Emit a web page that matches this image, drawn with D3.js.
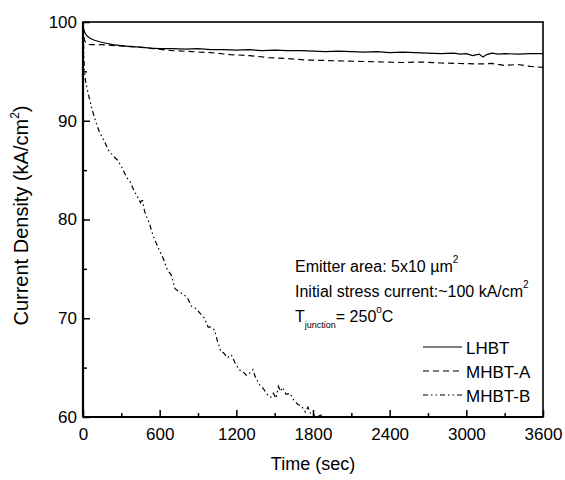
<!DOCTYPE html>
<html><head><meta charset="utf-8">
<script src="https://cdn.jsdelivr.net/npm/d3@7"></script>
<style>
html,body{margin:0;padding:0;background:#fff;}
text{font-family:"Liberation Sans",Arial,sans-serif;fill:#000;}
</style></head><body>
<svg id="chart" width="565" height="480"></svg>
<script>
const xTicks = [0, 600, 1200, 1800, 2400, 3000, 3600];
const yTicks = [60, 70, 80, 90, 100];

const lhbtTime = [0,5,15,30,55,90,130,180,235,300,370,450,530,600,700,800,900,1000,1100,1200,1300,1400,1500,1600,1700,1800,1900,2000,2100,2200,2300,2400,2500,2600,2700,2800,2900,2950,3000,3050,3100,3130,3160,3200,3250,3300,3400,3500,3600];
const lhbtValue = [99.8,99.3,98.9,98.6,98.35,98.15,98.0,97.85,97.7,97.6,97.5,97.45,97.35,97.3,97.3,97.25,97.3,97.2,97.2,97.15,97.2,97.1,97.15,97.1,97.1,97.05,97.0,97.05,97.0,96.95,97.0,96.9,96.95,96.9,96.85,96.8,96.85,96.75,96.8,96.6,96.75,96.45,96.7,96.85,96.75,96.8,96.75,96.8,96.8];

const mhbtATime = [0,10,25,60,150,250,400,550,700,850,1000,1150,1300,1450,1600,1750,1900,2050,2200,2350,2500,2650,2800,2950,3100,3200,3300,3400,3500,3600];
const mhbtAValue = [99.5,98.2,97.8,97.7,97.7,97.6,97.5,97.3,97.1,97.0,96.9,96.7,96.6,96.4,96.3,96.15,96.1,96.05,96.0,95.95,95.9,95.95,95.85,95.8,95.75,95.8,95.6,95.7,95.5,95.4];

const mhbtBTime = [0,5,10,20,40,70,100,130,160,200,240,270,300,340,370,400,430,450,465,475,490,520,550,590,630,660,690,720,750,790,820,850,880,910,950,980,1000,1030,1050,1080,1100,1130,1160,1190,1220,1250,1280,1310,1330,1350,1380,1410,1440,1470,1490,1510,1530,1545,1560,1590,1620,1650,1680,1710,1740,1760,1780,1800,1830,1860,1890,1900];
const mhbtBValue = [99.5,97.5,95.2,94.0,92.8,91.2,89.9,88.8,88.1,87.0,86.4,86.0,85.4,84.3,83.8,82.9,82.2,81.7,82.1,81.2,80.5,79.6,78.3,77.1,76.0,74.9,74.4,73.0,72.7,72.4,72.0,71.2,71.0,70.6,70.0,69.1,69.1,68.8,67.8,66.6,66.5,66.0,66.3,65.5,64.8,64.6,64.2,64.5,64.8,64.0,63.3,62.9,62.3,62.0,62.4,61.9,63.1,62.6,63.0,62.3,62.4,61.7,61.3,61.1,60.5,61.0,60.4,60.3,60.0,60.2,60.1,59.8];

const seriesNames = ["LHBT", "MHBT-A", "MHBT-B"];
const dashes = [null, "6,4", "5,3,1.5,3,1.5,3"];

const svg = d3.select("#chart");
const L = 83, R = 543, T = 22, B = 417;
const x = d3.scaleLinear().domain([0, 3600]).range([L, R]);
const y = d3.scaleLinear().domain([60, 100]).range([B, T]);

svg.append("defs").append("clipPath").attr("id", "clip")
  .append("rect").attr("x", L).attr("y", T).attr("width", R - L).attr("height", B - T);

const series = [
  {t: lhbtTime, v: lhbtValue},
  {t: mhbtATime, v: mhbtAValue},
  {t: mhbtBTime, v: mhbtBValue}
];
const line = d3.line().x(d => x(d[0])).y(d => y(d[1]));
series.forEach((s, i) => {
  const pts = s.t.map((t, j) => [t, s.v[j]]);
  svg.append("path").attr("clip-path", "url(#clip)")
    .attr("d", line(pts)).attr("fill", "none").attr("stroke", "#000")
    .attr("stroke-width", 1.2)
    .attr("stroke-dasharray", dashes[i]);
});

// axes
const xMinor = d3.range(300, 3600, 600);
const yMinor = [65, 75, 85, 95];
const xAxis = d3.axisBottom(x).tickValues(xTicks).tickSize(-7).tickPadding(11).tickFormat(d3.format("d"));
const xAxisMinor = d3.axisBottom(x).tickValues(xMinor).tickSize(-4).tickFormat("");
const yAxis = d3.axisLeft(y).tickValues(yTicks).tickSize(-7).tickPadding(6).tickFormat(d3.format("d"));
const yAxisMinor = d3.axisLeft(y).tickValues(yMinor).tickSize(-4).tickFormat("");

function styleAxis(g) {
  g.attr("font-family", null);
  g.select(".domain").remove();
  g.selectAll("line").attr("stroke", "#000").attr("stroke-width", 1.5);
  g.selectAll("text").attr("font-size", 17).attr("fill", "#000");
}
svg.append("g").attr("transform", `translate(0,${B})`).call(xAxis).call(styleAxis);
svg.append("g").attr("transform", `translate(0,${B})`).call(xAxisMinor).call(styleAxis);
svg.append("g").attr("transform", `translate(${L},0)`).call(yAxis).call(styleAxis);
svg.append("g").attr("transform", `translate(${L},0)`).call(yAxisMinor).call(styleAxis);

// frame
svg.append("rect").attr("x", L).attr("y", T).attr("width", R - L).attr("height", B - T)
  .attr("fill", "none").attr("stroke", "#000").attr("stroke-width", 1.6);
svg.append("line").attr("x1", L).attr("x2", L).attr("y1", T).attr("y2", B).attr("stroke", "#000").attr("stroke-width", 2.2);
svg.append("line").attr("x1", L).attr("x2", R).attr("y1", B).attr("y2", B).attr("stroke", "#000").attr("stroke-width", 2.2);

// axis titles
svg.append("text").attr("x", (L + R) / 2).attr("y", 470).attr("text-anchor", "middle")
  .attr("font-size", 18).text("Time (sec)");
const yl = svg.append("text").attr("transform", `translate(28,${(T + B) / 2 - 4}) rotate(-90)`)
  .attr("text-anchor", "middle").attr("font-size", 20);
yl.append("tspan").text("Current Density (kA/cm");
yl.append("tspan").attr("font-size", 12).attr("dy", -9).text("2");
yl.append("tspan").attr("dy", 9).text(")");

// annotations
const ann = svg.append("g").attr("font-size", 16);
const a1 = ann.append("text").attr("x", 295).attr("y", 272);
a1.append("tspan").text("Emitter area: 5x10 \u00b5m");
a1.append("tspan").attr("font-size", 10).attr("dy", -9).text("2");
const a2 = ann.append("text").attr("x", 295).attr("y", 297);
a2.append("tspan").text("Initial stress current:~100 kA/cm");
a2.append("tspan").attr("font-size", 10).attr("dy", -9).text("2");
const a3 = ann.append("text").attr("x", 295).attr("y", 322);
a3.append("tspan").text("T");
a3.append("tspan").attr("font-size", 9).attr("dy", 6).text("junction");
a3.append("tspan").attr("dy", -6).text("= 250");
a3.append("tspan").attr("font-size", 10).attr("dy", -9).text("o");
a3.append("tspan").attr("dy", 9).text("C");

// legend
seriesNames.forEach((name, i) => {
  const ly = 347 + i * 24;
  svg.append("line").attr("x1", 423).attr("x2", 462).attr("y1", ly).attr("y2", ly)
    .attr("stroke", "#000").attr("stroke-width", 1.2).attr("stroke-dasharray", dashes[i]);
  svg.append("text").attr("x", 466).attr("y", ly + 7).attr("font-size", 17).text(name);
});
</script>
</body></html>
